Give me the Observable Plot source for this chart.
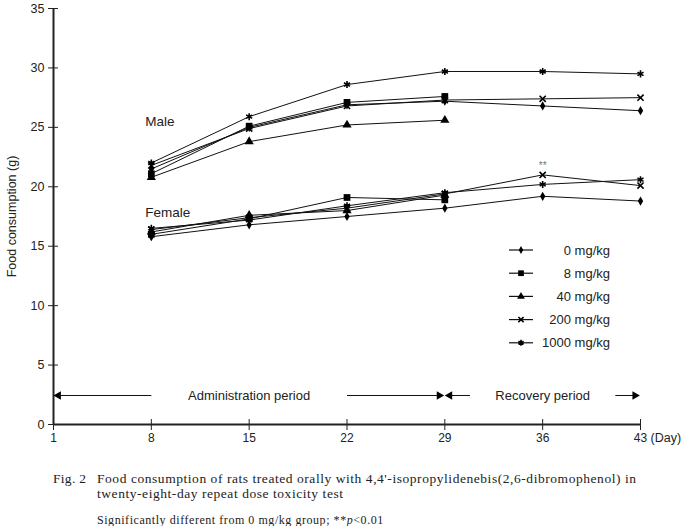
<!DOCTYPE html>
<html><head><meta charset="utf-8">
<script src="https://cdn.jsdelivr.net/npm/d3@7"></script>
<script src="https://cdn.jsdelivr.net/npm/@observablehq/plot@0.6"></script>
<style>
body{margin:0;background:#fff;}
#wrap{position:relative;width:688px;height:450px;}
#legend{position:absolute;left:0;top:0;pointer-events:none;}
#caption{font-family:"Liberation Serif",serif;color:#222;padding-top:21px;}
#caption .row{display:flex;font-size:13.5px;line-height:15px;letter-spacing:0.55px;}
#caption .fig{width:44px;margin-left:53px;letter-spacing:0.3px;}
#caption .note{margin-left:97px;margin-top:12px;font-size:12px;letter-spacing:0.55px;}
</style></head><body>
<div id="wrap"><div id="chart"></div><svg id="legend" width="688" height="450"></svg></div>
<div id="caption">
  <div class="row"><div class="fig">Fig. 2</div><div>Food consumption of rats treated orally with 4,4'-isopropylidenebis(2,6-dibromophenol) in<br>twenty-eight-day repeat dose toxicity test</div></div>
  <div class="note">Significantly different from 0 mg/kg group; **<i>p</i>&lt;0.01</div>
</div>
<script>
const days = [8, 15, 22, 29, 36, 43];
const xTicks = [1, 8, 15, 22, 29, 36, 43];
const yTicks = [0, 5, 10, 15, 20, 25, 30, 35];
const doses = ["0 mg/kg", "8 mg/kg", "40 mg/kg", "200 mg/kg", "1000 mg/kg"];
const symbols = ["diamond", "square", "triangle", "times", "asterisk"];

const male0    = [21.5, 25.0, 26.9, 27.2, 26.8, 26.4];
const male8    = [21.1, 25.1, 27.1, 27.6];
const male40   = [20.8, 23.8, 25.2, 25.6];
const male200  = [21.8, 24.9, 26.8, 27.3, 27.4, 27.5];
const male1000 = [22.0, 25.9, 28.6, 29.7, 29.7, 29.5];

const female0    = [15.8, 16.8, 17.5, 18.2, 19.2, 18.8];
const female8    = [16.0, 17.3, 19.1, 18.9];
const female40   = [16.2, 17.6, 18.0, 19.3];
const female200  = [16.4, 17.4, 18.2, 19.4, 21.0, 20.1];
const female1000 = [16.5, 17.2, 18.4, 19.5, 20.2, 20.6];

const sexLabels = ["Male", "Female"];
const periods = [
  {label: "Administration period", start: 1, end: 29},
  {label: "Recovery period", start: 29, end: 43}
];
const significance = [{sex: "Female", dose: "200 mg/kg", day: 36, text: "**"}];

const series = {
  Male: [male0, male8, male40, male200, male1000],
  Female: [female0, female8, female40, female200, female1000]
};
const rows = [];
for (const sex of sexLabels) {
  series[sex].forEach((vals, di) => {
    vals.forEach((v, i) => rows.push({sex, dose: doses[di], day: days[i], value: v}));
  });
}

const symStyle = {
  "diamond": {r: 2.8, filled: true},
  "square": {r: 3.8, filled: true},
  "triangle": {r: 3.4, filled: true},
  "times": {r: 2.9, filled: false},
  "asterisk": {r: 3.3, filled: false}
};

const dotMarks = doses.map((dose, i) => {
  const s = symbols[i], st = symStyle[s];
  return Plot.dot(rows.filter(d => d.dose === dose), {
    x: "day", y: "value", symbol: s, r: st.r,
    fill: st.filled ? "#000" : "none",
    stroke: st.filled ? "none" : "#000",
    strokeWidth: st.filled ? 0 : 1.6
  });
});

// period arrows
const arrowY = 2.44;
const gaps = [7.0, 5.2];
const segs = [], heads = [], ptext = [];
periods.forEach((p, i) => {
  const mid = (p.start + p.end) / 2;
  const a = p.start + 0.35, b = p.end - 0.4;
  segs.push({x1: a, x2: mid - gaps[i]}, {x1: mid + gaps[i], x2: b});
  heads.push({x: a, rot: -90}, {x: b, rot: 90});
  ptext.push({x: mid, text: p.label});
});

const sigRows = significance.map(s => {
  const r = rows.find(d => d.sex === s.sex && d.dose === s.dose && d.day === s.day);
  return {...r, text: s.text};
});

const sexText = sexLabels.map(sex => {
  const first = rows.filter(d => d.sex === sex && d.day === days[0]);
  return {sex, day: days[0], value: d3.max(first, d => d.value) + (sex === "Male" ? 3.5 : 1.3)};
});

const chart = Plot.plot({
  width: 688, height: 450,
  marginLeft: 53, marginRight: 48, marginTop: 8, marginBottom: 26,
  style: {fontFamily: "Liberation Sans, Arial, sans-serif", fontSize: "12px", color: "#222", background: "#fff"},
  x: {domain: [1, 43]},
  y: {domain: [0, 35]},
  marks: [
    Plot.axisY({ticks: yTicks, tickSize: 5, tickPadding: 4, label: "Food consumption (g)", labelAnchor: "center", labelOffset: 46, labelArrow: "none", fontSize: 12.5}),
    Plot.axisY({ticks: yTicks, tickSize: -5, fill: "none"}),
    Plot.axisX({ticks: xTicks, tickSize: 6, tickPadding: 3, tickFormat: d => String(d), label: null}),
    Plot.axisX({ticks: xTicks, tickSize: -5, fill: "none"}),
    Plot.ruleX([1], {stroke: "#222", strokeWidth: 2}),
    Plot.ruleY([0], {stroke: "#222", strokeWidth: 2}),
    Plot.text(["(Day)"], {x: 43, y: 0, dx: 10, dy: 13, textAnchor: "start", fontSize: 12.5}),
    Plot.line(rows, {x: "day", y: "value", z: d => d.sex + d.dose, stroke: "#111", strokeWidth: 1}),
    ...dotMarks,
    Plot.text(sigRows, {x: "day", y: "value", text: "text", dy: -9, fill: "#777", fontSize: 10}),
    Plot.text(sexText, {x: "day", y: "value", text: "sex", textAnchor: "start", dx: -6, fontSize: 13.5, fill: "#222"}),
    Plot.link(segs, {x1: "x1", x2: "x2", y1: arrowY, y2: arrowY, stroke: "#111", strokeWidth: 1}),
    Plot.dot(heads, {x: "x", y: arrowY, symbol: "triangle", r: 3.2, rotate: "rot", fill: "#000"}),
    Plot.text(ptext, {x: "x", y: arrowY, text: "text", fontSize: 13, fill: "#222"})
  ]
});
document.getElementById("chart").append(chart);

// legend
const leg = d3.select("#legend");
const lx = 509, lw = 24, ly0 = 250, ldy = 23.2, ltx = 610;
doses.forEach((dose, i) => {
  const y = ly0 + i * ldy, s = symbols[i], st = symStyle[s];
  const g = leg.append("g");
  g.append("line").attr("x1", lx).attr("x2", lx + lw).attr("y1", y).attr("y2", y).attr("stroke", "#111").attr("stroke-width", 1.2);
  const sym = {diamond: d3.symbolDiamond, square: d3.symbolSquare, triangle: d3.symbolTriangle, times: d3.symbolTimes, asterisk: d3.symbolAsterisk}[s];
  const rr = st.r * 0.85;
  g.append("path").attr("transform", `translate(${lx + lw / 2},${y})`)
    .attr("d", d3.symbol(sym, rr * rr * Math.PI)())
    .attr("fill", st.filled ? "#000" : "none").attr("stroke", st.filled ? "none" : "#000").attr("stroke-width", 1.6);
  g.append("text").attr("x", ltx).attr("y", y).attr("dy", "0.35em").attr("text-anchor", "end")
    .attr("font-family", "Liberation Sans, Arial, sans-serif").attr("font-size", 13).attr("fill", "#222").text(dose);
});
</script>
</body></html>
